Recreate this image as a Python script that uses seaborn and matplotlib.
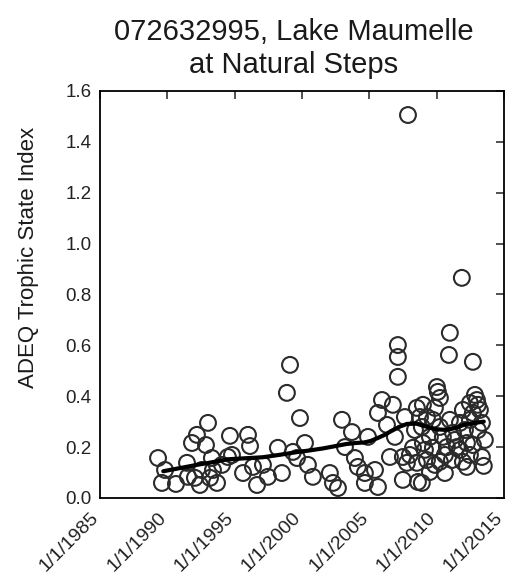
import matplotlib
matplotlib.use("Agg")
import matplotlib.pyplot as plt
import matplotlib.transforms as mtransforms
import seaborn as sns

# ---- data (decimal year, ADEQ Trophic State Index) ----
sample_year = [
    1989.31, 1989.83, 1989.60, 1990.64, 1991.46, 1991.53, 1991.83, 1992.20, 1992.05, 1992.42,
    1992.57, 1992.87, 1993.02, 1993.31, 1993.17, 1993.69, 1993.39, 1994.06, 1994.50, 1994.65,
    1994.80,
    1995.62, 1995.99, 1996.14, 1996.36, 1996.66, 1997.10, 1997.47, 1998.21, 1998.51, 1998.88,
    1999.11, 1999.33, 1999.63, 1999.85, 2000.22, 2000.44, 2000.81, 2002.07, 2002.30, 2002.67,
    2002.97, 2003.19,
    2003.71, 2003.93, 2004.15, 2004.67, 2004.67, 2005.42, 2005.64, 2004.90, 2005.64, 2005.94,
    2006.75, 2006.31, 2006.90, 2006.53, 2007.12, 2007.12, 2007.12, 2007.49, 2007.79, 2008.01,
    2007.64, 2007.49, 2007.87,
    2008.53, 2008.76, 2008.53, 2008.61, 2008.98, 2009.28, 2008.90, 2009.72, 2010.24, 2010.98,
    2011.95, 2012.47, 2012.99, 2013.06, 2012.69, 2013.36, 2011.73, 2011.21, 2010.46, 2009.50,
    2008.98, 2009.72, 2010.76, 2011.50, 2012.25, 2012.69, 2009.28, 2010.24, 2011.13, 2011.95,
    2013.36, 2013.50, 2009.50, 2010.61, 2012.25, 2008.90, 2010.02, 2010.09, 2010.24, 2009.87,
    2010.98, 2010.91, 2012.69, 2011.87,
    2012.84, 2013.21, 2012.47, 2012.10, 2011.36, 2010.61, 2009.87, 2009.13, 2011.73, 2012.47,
    2013.58, 2013.06, 2008.24, 2008.39,
]
tsi_value = [
    0.157, 0.110, 0.059, 0.055, 0.138, 0.083, 0.216, 0.248, 0.079, 0.051,
    0.110, 0.208, 0.295, 0.157, 0.079, 0.059, 0.110, 0.130, 0.161, 0.244,
    0.169,
    0.098, 0.248, 0.204, 0.122, 0.051, 0.130, 0.083, 0.197, 0.098, 0.413,
    0.523, 0.181, 0.157, 0.314, 0.216, 0.130, 0.083, 0.098, 0.059, 0.039,
    0.307, 0.200,
    0.259, 0.157, 0.122, 0.098, 0.059, 0.110, 0.043, 0.240, 0.334, 0.385,
    0.366, 0.287, 0.240, 0.161, 0.601, 0.554, 0.476, 0.161, 0.138, 0.169,
    0.318, 0.071, 1.505,
    0.354, 0.318, 0.138, 0.063, 0.366, 0.318, 0.279, 0.307, 0.279, 0.307,
    0.346, 0.373, 0.385, 0.366, 0.334, 0.295, 0.295, 0.256, 0.240, 0.240,
    0.216, 0.197, 0.200, 0.200, 0.216, 0.208, 0.149, 0.142, 0.149, 0.142,
    0.161, 0.126, 0.102, 0.098, 0.122, 0.059, 0.436, 0.417, 0.393, 0.354,
    0.649, 0.562, 0.535, 0.865,
    0.405, 0.346, 0.307, 0.267, 0.228, 0.169, 0.130, 0.189, 0.189, 0.169,
    0.228, 0.267, 0.197, 0.267,
]

# smoothed trend line
trend_year = [1989.7, 1991.0, 1992.2, 1993.4, 1994.5, 1995.8, 1997.1, 1998.4, 1999.6, 2000.6,
              2001.6, 2002.5, 2003.3, 2004.0, 2004.6, 2005.1, 2005.6, 2006.1, 2006.6, 2007.2,
              2007.8, 2008.5, 2009.0, 2009.5, 2010.0, 2010.5, 2011.0, 2011.5, 2012.0, 2012.7,
              2013.5]
trend_value = [0.105, 0.118, 0.130, 0.141, 0.152, 0.156, 0.160, 0.170, 0.180, 0.187,
               0.195, 0.204, 0.212, 0.216, 0.218, 0.224, 0.235, 0.247, 0.262, 0.279,
               0.291, 0.292, 0.284, 0.276, 0.270, 0.268, 0.270, 0.277, 0.287, 0.294,
               0.300]

x_ticks = [1985, 1990, 1995, 2000, 2005, 2010, 2015]
x_tick_labels = ["1/1/1985", "1/1/1990", "1/1/1995", "1/1/2000", "1/1/2005", "1/1/2010", "1/1/2015"]
y_ticks = [0.0, 0.2, 0.4, 0.6, 0.8, 1.0, 1.2, 1.4, 1.6]
y_tick_labels = ["0.0", "0.2", "0.4", "0.6", "0.8", "1.0", "1.2", "1.4", "1.6"]

title_text = "072632995, Lake Maumelle\nat Natural Steps"
y_label_text = "ADEQ Trophic State Index"

# ---- plotting ----
sns.set_style("white")
plt.rcParams['font.family'] = ['Liberation Sans', 'DejaVu Sans']

fig = plt.figure(figsize=(5.05, 5.75), dpi=100)
ax = fig.add_axes([0.198, 0.134, 0.800, 0.708])

sns.scatterplot(x=sample_year, y=tsi_value, ax=ax, marker='o', s=130,
                facecolor='none', edgecolor='#2b2b2b', linewidth=1.5, zorder=2)
sns.lineplot(x=trend_year, y=trend_value, ax=ax, color='black', linewidth=3.0,
             zorder=3, sort=False)

ax.set_xlim(1985, 2015)
ax.set_ylim(0, 1.6)
ax.set_xticks(x_ticks)
ax.set_xticklabels(x_tick_labels, rotation=45, ha='right', rotation_mode='anchor',
                   fontsize=14, color='#222222')
ax.set_yticks(y_ticks)
ax.set_yticklabels(y_tick_labels, fontsize=13.5, color='#222222')
ax.tick_params(direction='in', top=True, right=True, length=6, width=1.1, pad=6,
               colors='#222222')
ax.tick_params(axis='x', pad=8)
shift = mtransforms.ScaledTranslation(-7 / 72, 0, fig.dpi_scale_trans)
for tl in ax.get_xticklabels():
    tl.set_color('#222222')
    tl.set_transform(tl.get_transform() + shift)
for sp in ax.spines.values():
    sp.set_visible(True)
    sp.set_color('black')
    sp.set_linewidth(1.3)

title = ax.set_title(title_text, fontsize=21, pad=13, color='#1a1a1a', linespacing=1.2)
title.set_transform(title.get_transform() + mtransforms.ScaledTranslation(-6 / 72, 0, fig.dpi_scale_trans))
ax.set_ylabel(y_label_text, fontsize=16, color='#1a1a1a')
ax.yaxis.set_label_coords(-0.15, 0.59)
ax.set_xlabel("")

fig.savefig("out.png", dpi=100)
